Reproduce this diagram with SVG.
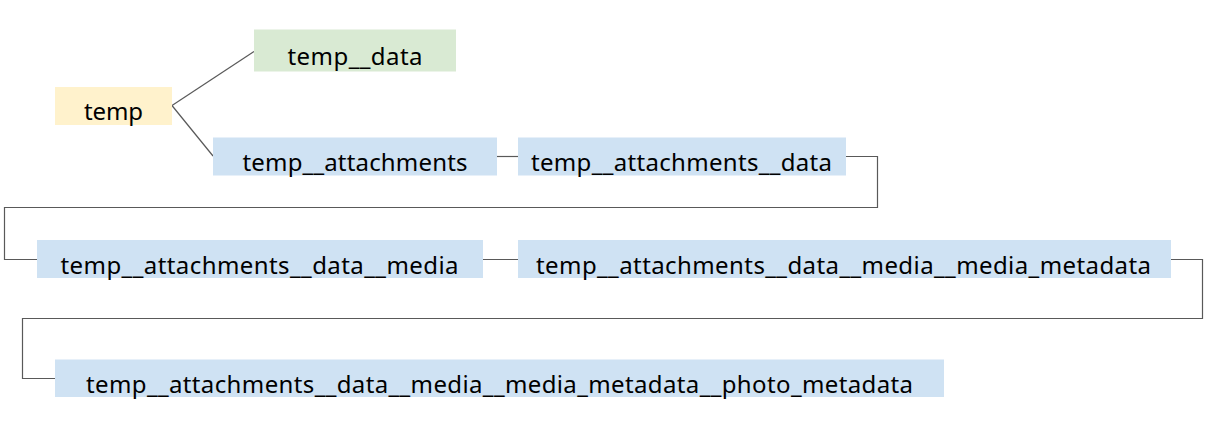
<svg xmlns="http://www.w3.org/2000/svg" width="1209" height="435" viewBox="0 0 1209 435">
<style>
.lbl{font-family:"Noto Sans","Open Sans","DejaVu Sans",sans-serif;font-size:24px;fill:#000;text-anchor:middle}
.blue{fill:#cfe2f3}
.conn{fill:none;stroke:#595959;stroke-width:1.2}
</style>
<rect width="1209" height="435" fill="#fff"/>
<g id="connectors">
<path class="conn" d="M172,105.5 L254,51.5"/>
<path class="conn" d="M172,105.5 L213,156"/>
<path class="conn" d="M497,156.5 L518,156.5"/>
<path class="conn" d="M846,156.5 H877.5 V207.5 H4.5 V259.5 H37"/>
<path class="conn" d="M483,259.5 H518"/>
<path class="conn" d="M1171,259.5 H1202.5 V318.5 H22.5 V378.5 H55"/>
</g>
<g id="n-temp">
<rect x="55" y="87" width="117" height="38" fill="#fff2cc"/>
<text class="lbl" x="113.5" y="120" textLength="59" lengthAdjust="spacing">temp</text>
</g>
<g id="n-temp-data">
<rect x="254" y="29.5" width="202" height="42" fill="#d9ead3"/>
<text class="lbl" x="355" y="64.5" textLength="135" lengthAdjust="spacing">temp__data</text>
</g>
<g id="n-attachments">
<rect class="blue" x="213" y="137.5" width="284" height="38"/>
<text class="lbl" x="355" y="171" textLength="225" lengthAdjust="spacing">temp__attachments</text>
</g>
<g id="n-attachments-data">
<rect class="blue" x="518" y="137.5" width="328" height="38"/>
<text class="lbl" x="681.5" y="171" textLength="301" lengthAdjust="spacing">temp__attachments__data</text>
</g>
<g id="n-media">
<rect class="blue" x="37" y="240" width="446" height="38"/>
<text class="lbl" x="259.5" y="274" textLength="398" lengthAdjust="spacing">temp__attachments__data__media</text>
</g>
<g id="n-media-metadata">
<rect class="blue" x="518" y="240" width="653" height="38"/>
<text class="lbl" x="843.5" y="274" textLength="615" lengthAdjust="spacing">temp__attachments__data__media__media_metadata</text>
</g>
<g id="n-photo-metadata">
<rect class="blue" x="55" y="359.5" width="889" height="37.5"/>
<text class="lbl" x="499.5" y="393" textLength="827" lengthAdjust="spacing">temp__attachments__data__media__media_metadata__photo_metadata</text>
</g>
</svg>
